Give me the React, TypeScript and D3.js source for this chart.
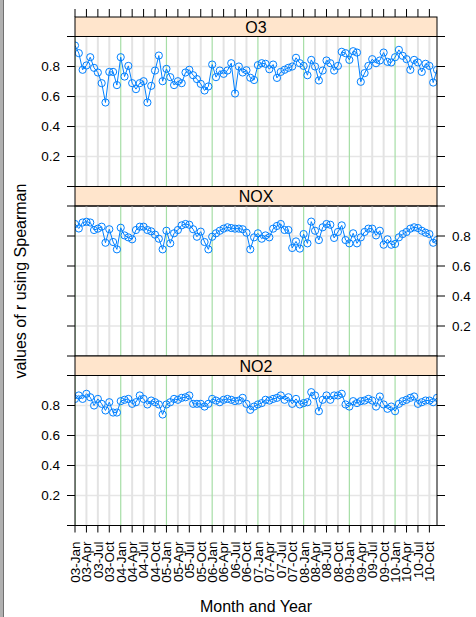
import React from "react";
import * as d3 from "d3";

const months = [
  "03-Jan","03-Apr","03-Jul","03-Oct","04-Jan","04-Apr","04-Jul","04-Oct",
  "05-Jan","05-Apr","05-Jul","05-Oct","06-Jan","06-Apr","06-Jul","06-Oct",
  "07-Jan","07-Apr","07-Jul","07-Oct","08-Jan","08-Apr","08-Jul","08-Oct",
  "09-Jan","09-Apr","09-Jul","09-Oct","10-Jan","10-Apr","10-Jul","10-Oct",
];
const yTicks = [0.2, 0.4, 0.6, 0.8];
const yTickMarks = [0, 0.2, 0.4, 0.6, 0.8, 1.0];

const o3 = [
  0.94, 0.889, 0.778, 0.807, 0.862, 0.791, 0.76, 0.689, 0.56, 0.764, 0.764, 0.676,
  0.862, 0.733, 0.804, 0.689, 0.649, 0.689, 0.702, 0.56, 0.671, 0.773, 0.873, 0.702,
  0.784, 0.729, 0.676, 0.702, 0.689, 0.76, 0.778, 0.742, 0.716, 0.684, 0.64, 0.667,
  0.813, 0.729, 0.773, 0.751, 0.773, 0.822, 0.62, 0.8, 0.76, 0.775, 0.725, 0.71,
  0.809, 0.822, 0.818, 0.782, 0.813, 0.724, 0.764, 0.778, 0.791, 0.8, 0.858, 0.822,
  0.804, 0.742, 0.844, 0.8, 0.707, 0.773, 0.84, 0.822, 0.773, 0.804, 0.898, 0.889,
  0.844, 0.902, 0.893, 0.698, 0.756, 0.804, 0.849, 0.822, 0.84, 0.893, 0.831, 0.827,
  0.862, 0.911, 0.871, 0.849, 0.778, 0.844, 0.827, 0.764, 0.818, 0.804, 0.693, 0.778,
];
const nox = [
  0.88, 0.85, 0.89, 0.895, 0.89, 0.84, 0.849, 0.862, 0.755, 0.845, 0.76, 0.711,
  0.855, 0.804, 0.791, 0.778, 0.84, 0.862, 0.862, 0.84, 0.831, 0.809, 0.782, 0.711,
  0.835, 0.751, 0.818, 0.84, 0.871, 0.88, 0.875, 0.845, 0.795, 0.829, 0.76, 0.711,
  0.795, 0.818, 0.835, 0.849, 0.858, 0.853, 0.849, 0.849, 0.845, 0.822, 0.711, 0.791,
  0.818, 0.782, 0.804, 0.791, 0.849, 0.867, 0.88, 0.84, 0.84, 0.72, 0.764, 0.716,
  0.813, 0.751, 0.896, 0.835, 0.773, 0.858, 0.88, 0.875, 0.787, 0.827, 0.871, 0.773,
  0.751, 0.818, 0.751, 0.791, 0.827, 0.849, 0.849, 0.804, 0.835, 0.742, 0.778, 0.742,
  0.747, 0.791, 0.813, 0.827, 0.849, 0.858, 0.853, 0.835, 0.822, 0.813, 0.755, 0.773,
];
const no2 = [
  0.844, 0.867, 0.844, 0.878, 0.855, 0.8, 0.844, 0.811, 0.767, 0.822, 0.753, 0.753,
  0.829, 0.838, 0.844, 0.811, 0.822, 0.867, 0.844, 0.807, 0.833, 0.822, 0.807, 0.74,
  0.807, 0.822, 0.844, 0.838, 0.851, 0.855, 0.867, 0.811, 0.811, 0.811, 0.793, 0.811,
  0.844, 0.833, 0.822, 0.838, 0.844, 0.838, 0.829, 0.833, 0.851, 0.811, 0.771, 0.793,
  0.807, 0.816, 0.838, 0.833, 0.844, 0.851, 0.867, 0.838, 0.855, 0.811, 0.844, 0.807,
  0.816, 0.822, 0.889, 0.867, 0.762, 0.838, 0.867, 0.838, 0.867, 0.867, 0.878, 0.807,
  0.793, 0.829, 0.816, 0.829, 0.833, 0.844, 0.833, 0.793, 0.86, 0.807, 0.778, 0.793,
  0.762, 0.811, 0.829, 0.838, 0.851, 0.86, 0.811, 0.822, 0.833, 0.833, 0.822, 0.851,
];

const panelNames = ["O3", "NOX", "NO2"];
const panelData = [o3, nox, no2];

const FONT = "'Liberation Sans', Arial, Helvetica, sans-serif";
const W = 476, H = 617;
const PL = 75, PR = 437;
const TOP = 17, STRIP = 19.5, BODY = 150;
const BLUE = "#0080ff";

export default function App() {
  const x = d3.scaleLinear().domain([0, 95]).range([PL, PR]);
  const tickIdx = months.map((_, i) => i * 3);
  const line = d3.line<number>().x((_, i) => x(i)).y((d) => d);
  const bottomY = TOP + 3 * (STRIP + BODY);

  const panels = panelNames.map((name, p) => {
    const sTop = TOP + p * (STRIP + BODY);
    const bTop = sTop + STRIP;
    const y = d3.scaleLinear().domain([0, 1]).range([bTop + BODY, bTop]);
    const data = panelData[p];
    const clipId = `clip${p}`;
    const leftLabels = p !== 1;
    const rightLabels = p === 1;
    return (
      <g key={name}>
        <defs>
          <clipPath id={clipId}>
            <rect x={PL} y={bTop} width={PR - PL} height={BODY} />
          </clipPath>
        </defs>
        <rect x={PL} y={sTop} width={PR - PL} height={STRIP} fill="#ffe5cc" stroke="#000" strokeWidth={1} />
        <text x={(PL + PR) / 2} y={sTop + STRIP / 2} dy="0.36em" textAnchor="middle" fontSize={16} fontFamily={FONT} fill="#000">{name}</text>
        <g clipPath={`url(#${clipId})`}>
          {yTicks.map((t) => (
            <line key={"h" + t} x1={PL} x2={PR} y1={y(t)} y2={y(t)} stroke="#e6e6e6" strokeWidth={1.5} />
          ))}
          {tickIdx.map((t) => (
            <line key={"v" + t} x1={x(t)} x2={x(t)} y1={bTop} y2={bTop + BODY}
              stroke={t % 12 === 0 ? "#a6dea6" : "#e3e3e3"} strokeWidth={t % 12 === 0 ? 1.2 : 2} />
          ))}
          <path d={line(data.map((v) => y(v))) || ""} fill="none" stroke={BLUE} strokeWidth={1} />
          {data.map((v, i) => (
            <circle key={i} cx={x(i)} cy={y(v)} r={3.6} fill="none" stroke={BLUE} strokeWidth={1} />
          ))}
        </g>
        <rect x={PL} y={bTop} width={PR - PL} height={BODY} fill="none" stroke="#000" strokeWidth={1} />
        {yTickMarks.map((t) => (
          <line key={"lt" + t} x1={PL - 8} x2={PL} y1={y(t)} y2={y(t)} stroke="#000" strokeWidth={1} />
        ))}
        {yTickMarks.map((t) => (
          <line key={"rt" + t} x1={PR} x2={PR + 8} y1={y(t)} y2={y(t)} stroke="#000" strokeWidth={1} />
        ))}
        {leftLabels && yTicks.map((t) => (
          <text key={"ll" + t} x={PL - 15} y={y(t)} dy="0.36em" textAnchor="end" fontSize={13.5} fontFamily={FONT} fill="#000">{t.toFixed(1)}</text>
        ))}
        {rightLabels && yTicks.map((t) => (
          <text key={"rl" + t} x={PR + 15} y={y(t)} dy="0.36em" textAnchor="start" fontSize={13.5} fontFamily={FONT} fill="#000">{t.toFixed(1)}</text>
        ))}
      </g>
    );
  });

  return (
    <svg width={W} height={H} style={{ position: "absolute", left: 0, top: 0, background: "#fff" }}>
      <rect x={0} y={0} width={W} height={H} fill="#fff" />
      <rect x={0} y={0} width={3} height={H} fill="#b0b0b0" />
      <line x1={3.5} x2={3.5} y1={0} y2={H} stroke="#707070" strokeWidth={1} />
      {tickIdx.map((t) => (
        <line key={"tt" + t} x1={x(t)} x2={x(t)} y1={TOP - 8} y2={TOP} stroke="#000" strokeWidth={1} />
      ))}
      {panels}
      {tickIdx.map((t) => (
        <line key={"bt" + t} x1={x(t)} x2={x(t)} y1={bottomY} y2={bottomY + 7} stroke="#000" strokeWidth={1} />
      ))}
      {months.map((m, i) => (
        <text key={m} transform={`translate(${x(tickIdx[i])},${bottomY + 16}) rotate(-90)`} dy="0.36em"
          textAnchor="end" fontSize={13.5} fontFamily={FONT} fill="#000">{m}</text>
      ))}
      <text x={(PL + PR) / 2} y={612} textAnchor="middle" fontSize={16} fontFamily={FONT} fill="#000">Month and Year</text>
      <text transform={`translate(25.5,281) rotate(-90)`} textAnchor="middle" fontSize={16} fontFamily={FONT} fill="#000">values of r using Spearman</text>
    </svg>
  );
}
